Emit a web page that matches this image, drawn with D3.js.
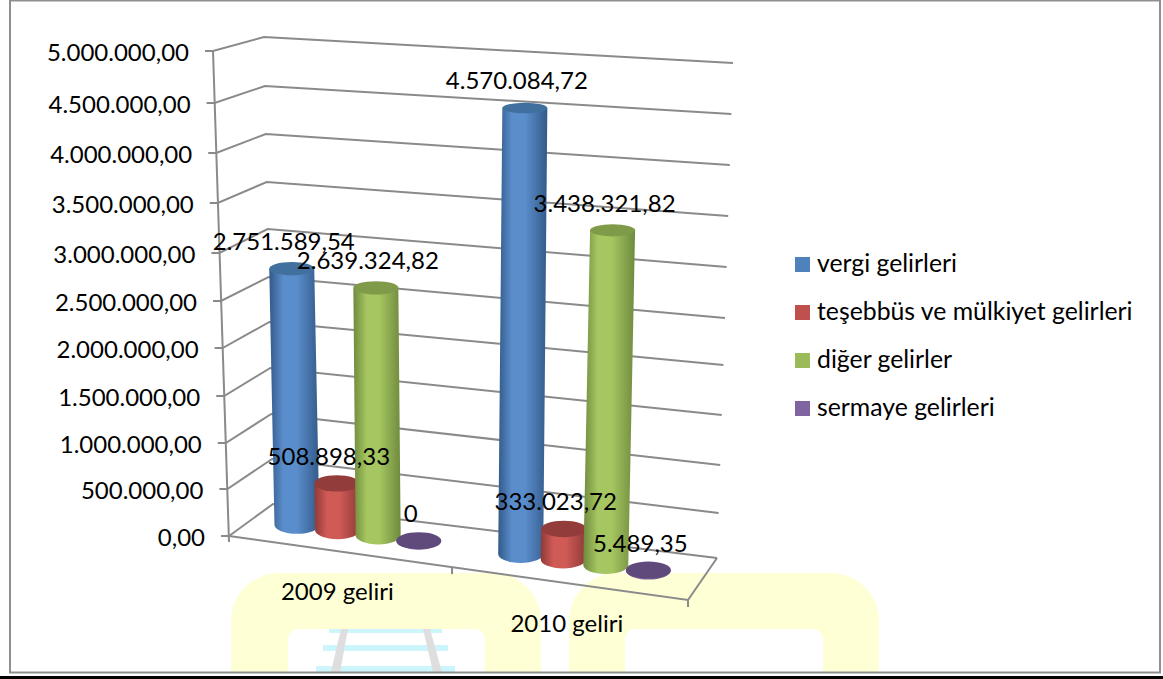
<!DOCTYPE html>
<html><head><meta charset="utf-8">
<script src="https://cdn.jsdelivr.net/npm/d3@7/dist/d3.min.js"></script>
<style>html,body{margin:0;padding:0;background:#fff}svg{display:block}text{font-family:Lato,"Open Sans",sans-serif;fill:#000}</style>
</head><body><div id="c"></div>
<script>
const categories=["2009 geliri","2010 geliri"];
const seriesNames=["vergi gelirleri","teşebbüs ve mülkiyet gelirleri","diğer gelirler","sermaye gelirleri"];
const seriesColors=["#4F81BD","#C0504D","#9BBB59","#8064A2"];
const vergi=[2751589.54,4570084.72];
const tesebbus=[508898.33,333023.72];
const diger=[2639324.82,3438321.82];
const sermaye=[0,5489.35];
const valueLabels=[["2.751.589,54","4.570.084,72"],["508.898,33","333.023,72"],["2.639.324,82","3.438.321,82"],["0","5.489,35"]];
const tickValues=[0,500000,1000000,1500000,2000000,2500000,3000000,3500000,4000000,4500000,5000000];
const tickLabels=["0,00","500.000,00","1.000.000,00","1.500.000,00","2.000.000,00","2.500.000,00","3.000.000,00","3.500.000,00","4.000.000,00","4.500.000,00","5.000.000,00"];
const seriesValues=[vergi,tesebbus,diger,sermaye];

const W=1163,H=679;
const svg=d3.select("#c").append("svg").attr("width",W).attr("height",H);
const defs=svg.append("defs");

// perspective box: one y scale per vertical corner of the 3D plot
const yFrontLeft=d3.scaleLinear().domain(tickValues).range([536,489,443,396,348,301,253,203,153,103,51]);
const yBackLeft=d3.scaleLinear().domain(tickValues).range([504,459,414,368,322,277,229,182,134,86,37]);
const yBackRight=d3.scaleLinear().domain(tickValues).range([558,513,465,415,365,318,267,216,165,114,63]);
const yFrontRight=d3.scaleLinear().domain(tickValues).range([600,553,504,455,405,355,304,252,200,147,95]);
const vMax=tickValues[tickValues.length-1];
const xFrontLeft=d3.scaleLinear().domain([0,vMax]).range([229,213]);
const xBackLeft=d3.scaleLinear().domain([0,vMax]).range([273,264]);
const xBackRight=d3.scaleLinear().domain([0,vMax]).range([717,733]);
const xFrontRight=d3.scaleLinear().domain([0,vMax]).range([688,704]);
function project(u,d,v){
  const fx=xFrontLeft(v)+(xFrontRight(v)-xFrontLeft(v))*u, fy=yFrontLeft(v)+(yFrontRight(v)-yFrontLeft(v))*u;
  const bx=xBackLeft(v)+(xBackRight(v)-xBackLeft(v))*u, by=yBackLeft(v)+(yBackRight(v)-yBackLeft(v))*u;
  return [fx+(bx-fx)*d, fy+(by-fy)*d];
}
const uCat=d3.scaleBand().domain(categories).range([0,1]).paddingInner(.28).paddingOuter(.14).align(.4);
const uSer=d3.scaleBand().domain(seriesNames).range([0,uCat.bandwidth()]);
// foreshortening along the floor: the nearer group is drawn slightly wider
const uWarp=d3.scaleLinear().domain([.101,.371,.601,.871]).range([.099,.369,.595,.878]);
const ryScale=d3.scaleLinear().domain([0,vMax]).range([8.5,5]);
const barDepth=.53, rx=22.5;

// frame
svg.append("rect").attr("x",9).attr("y",0).attr("width",1151).attr("height",672).attr("fill","#fff");

// watermark
const wm=svg.append("g");
[[231,541,288,485],[569,879,625,823]].forEach(a=>{
  wm.append("path").attr("d",`M${a[0]},672V621A48,48 0 0 1 ${a[0]+48},573H${a[1]-48}A48,48 0 0 1 ${a[1]},621V672Z`).attr("fill","#FFFFD6");
  wm.append("path").attr("d",`M${a[2]},672V639A10,10 0 0 1 ${a[2]+10},629H${a[3]-10}A10,10 0 0 1 ${a[3]},639V672Z`).attr("fill","#fff");
});
[[329,442,629,4],[323,448,645,6],[316,455,666,6]].forEach(b=>wm.append("rect").attr("x",b[0]).attr("y",b[2]).attr("width",b[1]-b[0]).attr("height",b[3]).attr("fill","#CCF6FC"));
wm.append("path").attr("d","M341,629L331,672h9L348,629Z").attr("fill","#DEDEDE");
wm.append("path").attr("d","M423,629L433,672h9L430,629Z").attr("fill","#DEDEDE");

svg.append("rect").attr("x",10).attr("y",.5).attr("width",1150).attr("height",672).attr("fill","none").attr("stroke","#8f8f8f").attr("stroke-width",2);
svg.append("rect").attr("x",0).attr("y",676).attr("width",W).attr("height",3).attr("fill","#000");

// gridlines
const gridCol="#8a8a8a";
const line=d3.line();
const grid=svg.append("g").attr("fill","none").attr("stroke",gridCol).attr("stroke-width",2);
tickValues.forEach(v=>{
  grid.append("path").attr("d",line([[xFrontLeft(v)-8,yFrontLeft(v)],[xFrontLeft(v),yFrontLeft(v)],[xBackLeft(v),yBackLeft(v)],[xBackRight(v),yBackRight(v)]]));
});
grid.append("path").attr("d",line([[xFrontLeft(vMax),yFrontLeft(vMax)],[xFrontLeft(0),yFrontLeft(0)+6]]));
grid.append("path").attr("d",line([[xFrontLeft(0),yFrontLeft(0)],[xFrontRight(0),yFrontRight(0)],[xBackRight(0),yBackRight(0)]]));
const catBoundary=(uCat(categories[0])+uCat.bandwidth()+uCat(categories[1]))/2;
[catBoundary,1].forEach(u=>{const p=project(u,0,0);grid.append("path").attr("d",line([p,[p[0],p[1]+7]]));});

// y labels
svg.append("g").selectAll("text").data(tickValues).join("text")
  .attr("x",v=>xFrontLeft(v)-24).attr("y",v=>yFrontLeft(v)+9.5)
  .attr("text-anchor","end").attr("font-size",24).text((v,i)=>tickLabels[i]);

// cylinder gradients
const shades=[["#335a8a","#5a8dcb"],["#8e3a38","#d05a56"],["#6f8a3e","#a5c660"],["#5a4678","#8064A2"]];
shades.forEach((s,i)=>{
  const g=defs.append("linearGradient").attr("id","g"+i).attr("x1",0).attr("x2",1).attr("y1",0).attr("y2",0);
  [[0,s[0]],[.28,s[1]],[.55,s[1]],[1,s[0]]].forEach(t=>g.append("stop").attr("offset",t[0]).attr("stop-color",t[1]));
});
const capColors=["#41709f","#923d3b","#7f9a48","#604a7b"];

// cylinders
const bars=svg.append("g");
const labels=[];
categories.forEach((c,ci)=>{
  seriesNames.forEach((s,si)=>{
    const v=seriesValues[si][ci];
    const u=uWarp(uCat(c)+uSer(s)+uSer.bandwidth()/2);
    const b=project(u,barDepth,0), t=project(u,barDepth,v);
    const ryB=ryScale(0)+.5, ryT=ryScale(v);
    bars.append("path").attr("fill",`url(#g${si})`)
      .attr("d",`M${t[0]-rx},${t[1]}L${b[0]-rx},${b[1]}A${rx},${ryB} 0 0 0 ${b[0]+rx},${b[1]}L${t[0]+rx},${t[1]}Z`);
    bars.append("ellipse").attr("cx",t[0]).attr("cy",t[1]).attr("rx",rx).attr("ry",ryT).attr("fill",capColors[si]);
    labels.push({x:t[0]-8,y:t[1]-18.5,text:valueLabels[si][ci]});
  });
});

// value labels
svg.append("g").selectAll("text").data(labels).join("text")
  .attr("x",d=>d.x).attr("y",d=>d.y).attr("text-anchor","middle").attr("font-size",24).text(d=>d.text);

// category labels
svg.append("g").selectAll("text").data(categories).join("text")
  .attr("x",c=>project(uCat(c)+uCat.bandwidth()/2,0,0)[0])
  .attr("y",c=>project(uCat(c)+uCat.bandwidth()/2-.015,0,0)[1]+49.5)
  .attr("text-anchor","middle").attr("font-size",24).text(c=>c);

// legend
const legY=d3.scalePoint().domain(seriesNames).range([264.5,408.5]);
const leg=svg.append("g").selectAll("g").data(seriesNames).join("g").attr("transform",s=>`translate(795,${legY(s)})`);
leg.append("rect").attr("y",-7.5).attr("width",15).attr("height",15).attr("fill",(s,i)=>seriesColors[i]);
leg.append("text").attr("x",22).attr("y",7.5).attr("font-size",24.8).text(s=>s);
</script></body></html>
